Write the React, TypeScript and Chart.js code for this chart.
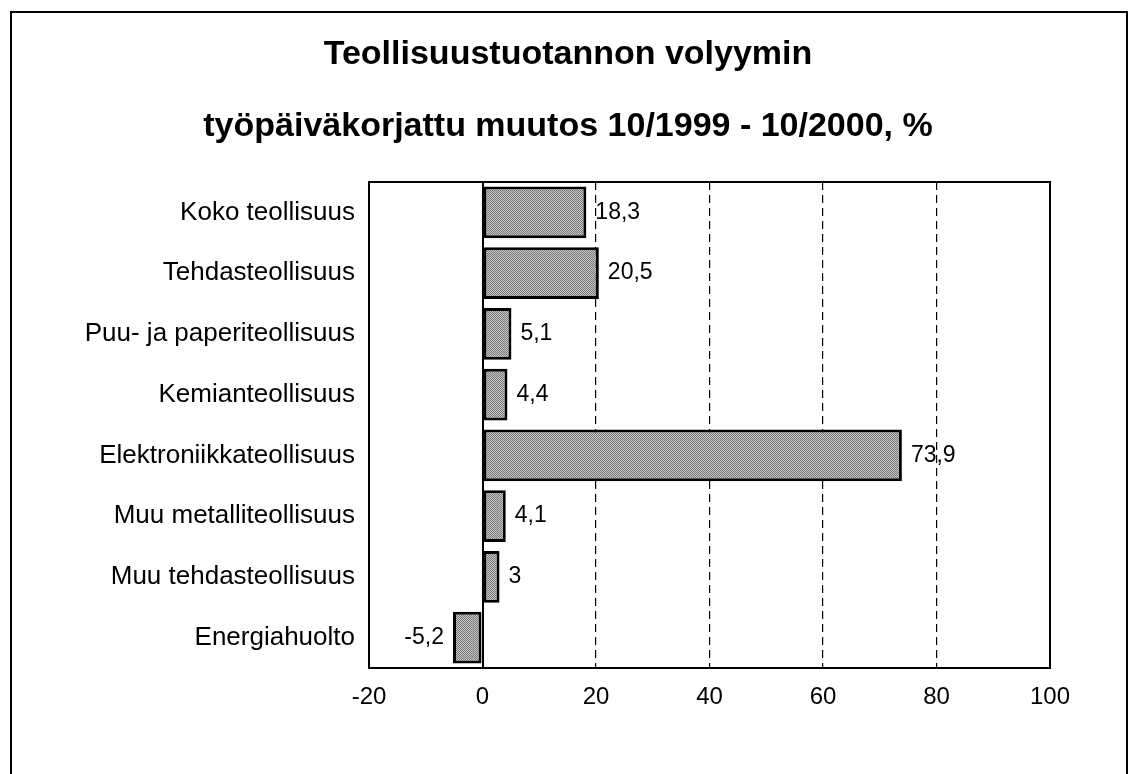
import React, { useEffect, useRef } from "react";
import { Chart, registerables } from "chart.js";

Chart.register(...registerables);

const titleLines = ["Teollisuustuotannon volyymin", "työpäiväkorjattu muutos 10/1999 - 10/2000, %"];
const categories = [
  "Koko teollisuus",
  "Tehdasteollisuus",
  "Puu- ja paperiteollisuus",
  "Kemianteollisuus",
  "Elektroniikkateollisuus",
  "Muu metalliteollisuus",
  "Muu tehdasteollisuus",
  "Energiahuolto",
];
const changes = [18.3, 20.5, 5.1, 4.4, 73.9, 4.1, 3, -5.2];
const xMin = -20;
const xMax = 100;
const xStep = 20;

const FONT = "'Liberation Sans', Arial, Helvetica, sans-serif";

function fmt(v: number): string {
  return String(v).replace(".", ",");
}

export default function App() {
  const ref = useRef<HTMLCanvasElement | null>(null);

  useEffect(() => {
    const canvas = ref.current;
    if (!canvas) return;

    const off = document.createElement("canvas");
    off.width = 2;
    off.height = 2;
    const octx = off.getContext("2d")!;
    octx.fillStyle = "#c4c4c4";
    octx.fillRect(0, 0, 2, 2);
    octx.fillStyle = "#7a7a7a";
    octx.fillRect(0, 0, 1, 1);
    octx.fillRect(1, 1, 1, 1);
    const pattern = canvas.getContext("2d")!.createPattern(off, "repeat");

    const framePlugin = {
      id: "frames",
      beforeDraw(chart: any) {
        const c = chart.ctx;
        c.save();
        c.fillStyle = "#ffffff";
        c.fillRect(0, 0, chart.width, chart.height);
        c.strokeStyle = "#000";
        c.lineWidth = 2;
        c.beginPath();
        c.moveTo(11, chart.height + 5);
        c.lineTo(11, 12);
        c.lineTo(1127, 12);
        c.lineTo(1127, chart.height + 5);
        c.stroke();
        c.restore();
      },
      beforeDatasetsDraw(chart: any) {
        const a = chart.chartArea;
        const c = chart.ctx;
        c.save();
        c.strokeStyle = "#000";
        c.lineWidth = 2;
        c.strokeRect(a.left, a.top, a.right - a.left, a.bottom - a.top);
        c.restore();
      },
      afterDatasetsDraw(chart: any) {
        const c = chart.ctx;
        const meta = chart.getDatasetMeta(0);
        c.save();
        c.fillStyle = "#000";
        c.font = `23px ${FONT}`;
        c.textBaseline = "middle";
        meta.data.forEach((bar: any, i: number) => {
          const v = changes[i];
          if (v >= 0) {
            c.textAlign = "left";
            c.fillText(fmt(v), bar.x + 9, bar.y);
          } else {
            c.textAlign = "right";
            c.fillText(fmt(v), bar.x - 9, bar.y);
          }
        });
        c.restore();
      },
    };

    const chart = new Chart(canvas, {
      type: "bar",
      data: {
        labels: categories,
        datasets: [
          {
            data: changes,
            backgroundColor: pattern as any,
            borderColor: "#000",
            borderWidth: 3,
            borderSkipped: false,
            barPercentage: 0.85,
            categoryPercentage: 1,
          },
        ],
      },
      options: {
        indexAxis: "y",
        responsive: false,
        animation: false,
        layout: { padding: { left: 86, right: 86, top: 0, bottom: 66 } },
        plugins: {
          legend: { display: false },
          tooltip: { enabled: false },
          title: {
            display: true,
            text: titleLines,
            color: "#000",
            font: { family: FONT, size: 34, weight: "bold", lineHeight: 72 / 34 },
            padding: { top: 19, bottom: 19 },
          },
        },
        scales: {
          x: {
            type: "linear",
            min: xMin,
            max: xMax,
            ticks: {
              stepSize: xStep,
              color: "#000",
              padding: 15,
              font: { family: FONT, size: 24 },
              callback: (v: any) => String(v),
            },
            grid: {
              drawTicks: false,
              color: (ctx: any) =>
                ctx.tick && (ctx.tick.value === xMin || ctx.tick.value === xMax) ? "rgba(0,0,0,0)" : "#000",
              lineWidth: (ctx: any) => (ctx.tick && ctx.tick.value === 0 ? 2 : 1.2),
            },
            border: {
              display: false,
              dash: (ctx: any) => (ctx.tick && ctx.tick.value !== 0 ? [8, 5] : []),
            },
            afterFit: (axis: any) => {
              axis.height = 40;
            },
          },
          y: {
            type: "category",
            ticks: {
              color: "#000",
              padding: 14,
              font: { family: FONT, size: 26 },
            },
            grid: { display: false, drawTicks: false },
            border: { display: false },
            afterFit: (axis: any) => {
              axis.width = 283;
            },
          },
        },
      },
      plugins: [framePlugin],
    } as any);

    return () => chart.destroy();
  }, []);

  return (
    <div style={{ position: "fixed", left: 0, top: 0, width: 1136, height: 774, overflow: "hidden", background: "#fff" }}>
      <canvas ref={ref} width={1136} height={774} style={{ display: "block" }} />
    </div>
  );
}
